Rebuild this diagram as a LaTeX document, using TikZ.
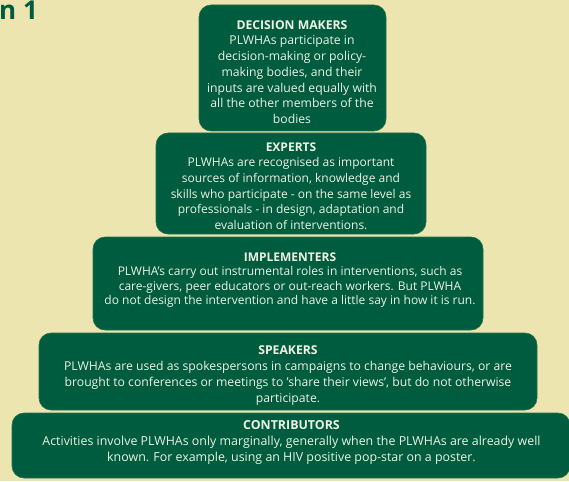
\documentclass[tikz,border=0pt]{standalone}
\usepackage{fontspec}
\setmainfont{Open Sans}
\definecolor{bgcream}{RGB}{236,229,176}
\definecolor{tiergreen}{RGB}{0,92,62}
\definecolor{tiertextc}{RGB}{238,242,228}
\tikzset{
  tier/.style={fill=tiergreen, draw=tiergreen!85!bgcream, line width=0.6pt, rounded corners=12pt, inner sep=0pt},
  tiertext/.style={text=tiertextc, align=center, inner sep=0pt},
}
\newcommand{\tiertitle}[1]{{\bfseries #1}}
\begin{document}
\begin{tikzpicture}[x=1pt,y=-1pt]
\fill[bgcream] (0,0) rectangle (569,481);
\useasboundingbox (0,0) rectangle (569,481);
\clip (0,0) rectangle (569,481);
\node[anchor=north west, inner sep=0pt, text=tiergreen, font=\fontsize{26}{28}\selectfont\bfseries] (fig) at (-1,1) {n 1};
% boxes
\node[tier, minimum width=187pt, minimum height=126pt] (dm) at (292.5,68) {};
\node[tier, minimum width=270pt, minimum height=101pt] (ex) at (291,183.5) {};
\node[tier, minimum width=390pt, minimum height=93pt] (im) at (288,283.5) {};
\node[tier, minimum width=498pt, minimum height=77pt] (sp) at (288,371.5) {};
\node[tier, minimum width=558pt, minimum height=65pt] (co) at (291,445.5) {};
% texts
\node[tiertext, font=\fontsize{12.2}{15.7}\selectfont] (dmt) at (292,72)
 {\tiertitle{DECISION MAKERS}\\PLWHAs participate in\\decision-making or policy-\\making bodies, and their\\inputs are valued equally with\\all the other members of the\\bodies};
\node[tiertext, font=\fontsize{12.0}{15.6}\selectfont] (ext) at (291,186)
 {\tiertitle{EXPERTS}\\PLWHAs are recognised as important\\sources of information, knowledge and\\skills who participate - on the same level as\\professionals - in design, adaptation and\\evaluation of interventions.};
\node[tiertext, font=\fontsize{12.0}{14.6}\selectfont] (imt) at (290,280)
 {\tiertitle{IMPLEMENTERS}\\PLWHA’s carry out instrumental roles in interventions, such as\\care-givers, peer educators or out-reach workers. But PLWHA\\do not design the intervention and have a little say in how it is run.};
\node[tiertext, font=\fontsize{12.2}{15.7}\selectfont] (spt) at (288,375.5)
 {\tiertitle{SPEAKERS}\\PLWHAs are used as spokespersons in campaigns to change behaviours, or are\\brought to conferences or meetings to 'share their views', but do not otherwise\\participate.};
\node[tiertext, font=\fontsize{12.4}{15.7}\selectfont] (cot) at (291.5,442.5)
 {\tiertitle{CONTRIBUTORS}\\Activities involve PLWHAs only marginally, generally when the PLWHAs are already well\\known. For example, using an HIV positive pop-star on a poster.};
\end{tikzpicture}
\end{document}
